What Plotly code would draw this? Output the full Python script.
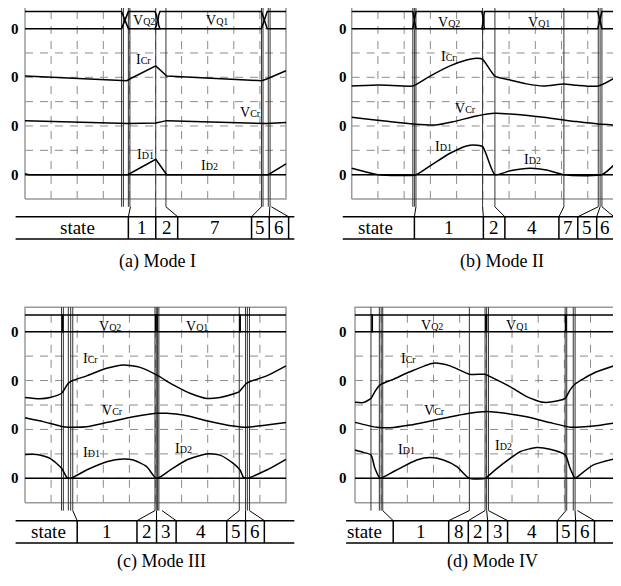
import plotly.graph_objects as go

PAGE_W, PAGE_H = 621, 586
PAGE_MARGIN = 8          # default body margin of the written html page
W, H = PAGE_W - PAGE_MARGIN, PAGE_H - PAGE_MARGIN
FONT = "Liberation Serif, Times New Roman, serif"

# ---------------- data (time in grid divisions, value in grid divisions) ----------------
# Panel (a) Mode I
a_vq2_t = [0, 3.70, 3.96, 4.98, 5.04, 5.07, 5.04, 4.98, 9.06, 9.28, 10]
a_vq2_v = [7.0, 7.0, 7.7, 7.7, 7.55, 7.35, 7.15, 7.0, 7.0, 7.7, 7.7]
a_vq1_t = [0, 3.70, 3.96, 5.17, 5.12, 5.10, 5.12, 5.17, 9.06, 9.28, 10]
a_vq1_v = [7.7, 7.7, 7.0, 7.0, 7.15, 7.35, 7.55, 7.7, 7.7, 7.0, 7.0]
a_icr_t = [0, 3.90, 4.05, 5.01, 5.43, 9.07, 9.26, 10]
a_icr_v = [5.05, 4.86, 4.95, 5.47, 5.05, 4.86, 4.93, 5.27]
a_vcr_t = [0, 3.96, 5.01, 5.43, 9.26, 10]
a_vcr_v = [3.22, 3.10, 3.12, 3.22, 3.10, 3.14]
a_id_t = [0, 0.15, 3.94, 5.01, 5.43, 9.32, 10]
a_id_v = [1.04, 1.0, 1.0, 1.63, 1.0, 1.0, 1.44]
a_edges = [3.70, 3.77, 3.96, 4.02, 5.01, 5.40, 9.06, 9.12, 9.32, 9.39]
a_cells = [3.96, 5.01, 5.85, 8.68, 9.36, 10.1]
a_links = [4.04, 5.01, 5.40, 9.06, 9.38, 9.44]
a_states = ["1", "2", "7", "5", "6"]

# Panel (b) Mode II
b_vq2_t = [0, 2.33, 2.45, 4.96, 4.99, 5.01, 4.99, 4.96, 9.38, 9.54, 10]
b_vq2_v = [7.0, 7.0, 7.7, 7.7, 7.55, 7.35, 7.15, 7.0, 7.0, 7.7, 7.7]
b_vq1_t = [0, 2.33, 2.45, 5.06, 5.04, 5.03, 5.04, 5.06, 9.38, 9.54, 10]
b_vq1_v = [7.7, 7.7, 7.0, 7.0, 7.15, 7.35, 7.55, 7.7, 7.7, 7.0, 7.0]
b_icr_t = [0, 1.02, 2.33, 2.45, 2.99, 3.75, 4.38, 4.76, 4.99, 5.46, 6.04, 6.67, 7.31, 8.09, 8.58, 9.40, 10]
b_icr_v = [4.64, 4.68, 4.64, 4.70, 5.05, 5.47, 5.71, 5.78, 5.74, 5.05, 4.89, 4.73, 4.64, 4.73, 4.67, 4.64, 4.96]
b_vcr_t = [0, 2.35, 3.18, 3.88, 4.76, 5.46, 6.04, 7.31, 8.58, 9.40, 10]
b_vcr_v = [3.36, 3.08, 3.04, 3.18, 3.41, 3.52, 3.49, 3.36, 3.18, 3.08, 3.04]
b_id_t = [0, 0.51, 1.02, 2.45, 2.99, 3.75, 4.38, 4.64, 4.99, 5.46, 6.04, 6.80, 7.43, 8.09, 9.54, 10]
b_id_v = [1.26, 1.12, 1.0, 1.0, 1.36, 1.88, 2.18, 2.22, 2.15, 1.0, 1.16, 1.26, 1.19, 1.0, 1.0, 1.40]
b_edges = [2.33, 2.39, 2.45, 4.99, 5.46, 8.09, 9.40, 9.47, 9.54]
b_cells = [2.39, 5.02, 5.84, 7.90, 8.62, 9.34, 10.0]
b_links = [2.45, 4.99, 5.46, 8.09, 9.40, 9.47, 9.54]
b_states = ["1", "2", "4", "7", "5", "6"]

# Panel (c) Mode III
c_vq2_t = [0, 1.44, 1.44, 5.01, 5.01, 8.24, 8.24, 10]
c_vq2_v = [7.68, 7.68, 7.0, 7.0, 7.68, 7.68, 7.0, 7.0]
c_vq1_t = [0, 1.44, 1.44, 5.06, 5.06, 8.24, 8.24, 10]
c_vq1_v = [7.0, 7.0, 7.68, 7.68, 7.0, 7.0, 7.68, 7.68]
c_icr_t = [0, 0.57, 0.96, 1.40, 1.53, 1.66, 1.83, 2.36, 3.13, 3.77, 4.41, 5.04, 5.68, 6.32, 6.96, 7.47, 7.98, 8.21, 8.37, 8.49, 8.62, 9.26, 10]
c_icr_v = [4.31, 4.26, 4.31, 4.48, 4.68, 4.89, 5.0, 5.19, 5.50, 5.64, 5.54, 5.23, 4.82, 4.48, 4.27, 4.31, 4.45, 4.55, 4.75, 4.89, 4.96, 5.19, 5.60]
c_vcr_t = [0, 0.70, 1.47, 1.83, 2.36, 3.13, 4.15, 5.04, 5.43, 6.07, 6.96, 7.98, 8.49, 9.26, 10]
c_vcr_v = [3.48, 3.32, 3.11, 3.09, 3.11, 3.28, 3.52, 3.66, 3.66, 3.59, 3.36, 3.14, 3.09, 3.18, 3.28]
c_id_t = [0, 0.45, 0.96, 1.40, 1.60, 1.66, 1.83, 2.36, 3.13, 3.77, 4.15, 4.66, 5.04, 5.56, 6.19, 6.96, 7.47, 7.98, 8.24, 8.37, 8.49, 9.26, 10]
c_id_v = [1.98, 1.98, 1.82, 1.41, 1.04, 1.0, 1.04, 1.34, 1.68, 1.79, 1.75, 1.48, 1.0, 1.34, 1.75, 2.0, 1.95, 1.61, 1.34, 1.04, 1.0, 1.34, 1.78]
c_edges = [1.40, 1.47, 1.66, 1.75, 1.83, 4.98, 5.03, 5.08, 5.13, 8.21, 8.45, 8.52, 8.60]
c_cells = [2.0, 4.29, 5.04, 5.79, 7.73, 8.45, 9.17]
c_links = [1.83, 4.98, 5.04, 5.25, 8.21, 8.45, 8.60]
c_states = ["1", "2", "3", "4", "5", "6"]

# Panel (d) Mode IV
d_vq2_t = [0, 0.66, 0.66, 5.00, 5.00, 8.06, 8.06, 10]
d_vq2_v = [7.68, 7.68, 7.0, 7.0, 7.68, 7.68, 7.0, 7.0]
d_vq1_t = [0, 0.66, 0.66, 5.03, 5.03, 8.06, 8.06, 10]
d_vq1_v = [7.0, 7.0, 7.68, 7.68, 7.0, 7.0, 7.68, 7.68]
d_icr_t = [0, 0.32, 0.61, 0.76, 0.89, 1.02, 1.46, 2.10, 2.99, 3.63, 4.37, 4.97, 5.03, 5.92, 6.56, 7.20, 7.71, 8.03, 8.22, 8.41, 9.11, 10]
d_icr_v = [4.11, 4.10, 4.27, 4.55, 4.75, 4.86, 5.05, 5.36, 5.71, 5.60, 5.26, 5.26, 5.23, 4.75, 4.34, 4.11, 4.16, 4.27, 4.62, 4.86, 5.30, 5.64]
d_vcr_t = [0, 0.83, 1.34, 2.10, 3.38, 4.37, 5.03, 5.41, 6.56, 7.45, 8.22, 8.47, 9.11, 10]
d_vcr_v = [3.29, 3.09, 3.07, 3.18, 3.46, 3.66, 3.73, 3.70, 3.52, 3.28, 3.09, 3.09, 3.14, 3.28]
d_id_t = [0, 0.32, 0.61, 0.76, 0.96, 1.06, 1.59, 2.36, 2.87, 3.38, 3.89, 4.37, 4.99, 5.03, 5.67, 6.31, 6.94, 7.45, 8.03, 8.22, 8.41, 8.47, 9.11, 10]
d_id_v = [2.16, 2.06, 1.96, 1.41, 1.0, 1.04, 1.34, 1.75, 1.85, 1.75, 1.48, 1.0, 1.0, 1.04, 1.61, 2.09, 2.26, 2.19, 1.96, 1.41, 1.0, 1.04, 1.55, 1.82]
d_edges = [0.61, 0.93, 1.00, 1.06, 4.37, 4.97, 5.03, 5.10, 8.03, 8.09, 8.34, 8.41]
d_cells = [1.46, 3.58, 4.33, 5.07, 5.83, 7.73, 8.43, 9.15]
d_links = [1.06, 4.37, 4.97, 5.03, 5.10, 8.06, 8.41, 8.50]
d_states = ["1", "8", "2", "3", "4", "5", "6"]

zero_levels = [7, 5, 3, 1]
captions = ["(a) Mode I", "(b) Mode II", "(c) Mode III", "(d) Mode IV"]


def lab(main, sub, big, small):
    return (f"<span style='font-size:{big}px;color:black'>{main}</span>"
            f"<span style='font-size:{small}px;color:black'>{sub}</span>")


# ---------------- layout of each panel (page pixel geometry) ----------------
panels = [
    dict(box=(25, 286, 4.3, 199), region=(8, 310, 8, 290), table=(-0.36, 10.32), zero_x=-0.38,
         state_x=2.0, cap=(5.06, -2.58),
         vq2=(a_vq2_t, a_vq2_v), vq1=(a_vq1_t, a_vq1_v), icr=(a_icr_t, a_icr_v),
         vcr=(a_vcr_t, a_vcr_v), idd=(a_id_t, a_id_v), edges=a_edges, cells=a_cells,
         links=a_links, states=a_states, shape="linear",
         labels=dict(VQ2=(4.55, 7.33), VQ1=(7.37, 7.33), ICr=(4.55, 5.74), VCr=(8.65, 3.55),
                     ID1=(4.61, 1.81), ID2=(7.05, 1.37))),
    dict(box=(351.7, 614, 4.3, 199), region=(310, 621, 8, 290), table=(-0.34, 10.25), zero_x=-0.32,
         state_x=0.89, cap=(5.72, -2.58),
         vq2=(b_vq2_t, b_vq2_v), vq1=(b_vq1_t, b_vq1_v), icr=(b_icr_t, b_icr_v),
         vcr=(b_vcr_t, b_vcr_v), idd=(b_id_t, b_id_v), edges=b_edges, cells=b_cells,
         links=b_links, states=b_states, shape="spline",
         labels=dict(VQ2=(3.72, 7.25), VQ1=(7.15, 7.25), ICr=(3.68, 5.85), VCr=(4.32, 3.73),
                     ID1=(3.49, 2.15), ID2=(6.9, 1.63))),
    dict(box=(25, 286, 307.2, 502.8), region=(8, 310, 290, 586), table=(-0.36, 10.32), zero_x=-0.38,
         state_x=0.89, cap=(5.24, -2.41),
         vq2=(c_vq2_t, c_vq2_v), vq1=(c_vq1_t, c_vq1_v), icr=(c_icr_t, c_icr_v),
         vcr=(c_vcr_t, c_vcr_v), idd=(c_id_t, c_id_v), edges=c_edges, cells=c_cells,
         links=c_links, states=c_states, shape="spline",
         labels=dict(VQ2=(3.26, 7.2), VQ1=(6.6, 7.2), ICr=(2.52, 5.91), VCr=(3.36, 3.77),
                     ID1=(2.55, 2.05), ID2=(6.09, 2.23))),
    dict(box=(355, 616.7, 307.2, 502.8), region=(310, 621, 290, 586), table=(-0.34, 10.15), zero_x=-0.45,
         state_x=0.38, cap=(5.25, -2.41),
         vq2=(d_vq2_t, d_vq2_v), vq1=(d_vq1_t, d_vq1_v), icr=(d_icr_t, d_icr_v),
         vcr=(d_vcr_t, d_vcr_v), idd=(d_id_t, d_id_v), edges=d_edges, cells=d_cells,
         links=d_links, states=d_states, shape="spline",
         labels=dict(VQ2=(2.93, 7.27), VQ1=(6.18, 7.27), ICr=(2.06, 5.91), VCr=(3.02, 3.77),
                     ID1=(1.95, 2.16), ID2=(5.69, 2.36))),
]

TAB_TOP, TAB_BOT, LINE_END = -0.73, -1.64, -0.32
GRID = "#8c8c8c"

fig = go.Figure()
annotations = []

for i, P in enumerate(panels, start=1):
    L, R, T, B = P["box"]
    x0, x1, y0, y1 = P["region"]
    sx, sy = (R - L) / 10.0, (B - T) / 8.0
    xr = [(x0 - L) / sx, (x1 - L) / sx]
    yr = [(B - y1) / sy, (B - y0) / sy]
    fx0, fx1 = x0 - PAGE_MARGIN, x1 - PAGE_MARGIN
    fy0, fy1 = y0 - PAGE_MARGIN, y1 - PAGE_MARGIN
    xn, yn = ("x" if i == 1 else f"x{i}"), ("y" if i == 1 else f"y{i}")
    xk, yk = ("xaxis" if i == 1 else f"xaxis{i}"), ("yaxis" if i == 1 else f"yaxis{i}")
    fig.layout[xk] = dict(domain=[fx0 / W, min(fx1 / W, 1)], range=xr, visible=False,
                          fixedrange=True, anchor=yn)
    fig.layout[yk] = dict(domain=[max(1 - fy1 / H, 0), 1 - fy0 / H], range=yr, visible=False,
                          fixedrange=True, anchor=xn)
    # correct ranges for clipped domains
    if fx1 > W:
        fig.layout[xk].range = [xr[0], (x0 + (W - fx0) - L) / sx]
    if fy1 > H:
        fig.layout[yk].range = [(B - (y0 + (H - fy0))) / sy, yr[1]]

    def line(xs, ys, color="black", width=1.5, dash="solid", shape="linear", name=""):
        fig.add_trace(go.Scatter(x=xs, y=ys, mode="lines", xaxis=xn, yaxis=yn, name=name,
                                 line=dict(color=color, width=width, dash=dash, shape=shape,
                                           smoothing=0.6),
                                 hoverinfo="skip", showlegend=False))

    # dashed grid
    gx, gy = [], []
    for k in range(1, 10):
        gx += [k, k, None]; gy += [0, 8, None]
    for k in range(1, 8):
        gx += [0, 10, None]; gy += [k, k, None]
    line(gx, gy, color=GRID, width=1, dash="8px,7px")
    # frame
    line([0, 10, 10, 0, 0], [0, 0, 8, 8, 0], color="#9a9a9a", width=1.5)
    # transition instants
    ex, ey = [], []
    for e in P["edges"]:
        ex += [e, e, None]; ey += [8, LINE_END, None]
    line(ex, ey, color="#333333", width=1)
    # ID zero line
    line([0, 10], [1, 1], width=1.5)
    # waveforms
    line(*P["vq2"], name="VQ2")
    line(*P["vq1"], name="VQ1")
    sh = P["shape"]
    line(*P["icr"], shape=sh, name="ICr")
    line(*P["vcr"], shape=sh, name="VCr")
    line(*P["idd"], shape=sh, name="ID")
    # state table
    t0, t1 = P["table"]
    tx, ty = [t0, t1, None, t0, t1, None], [TAB_TOP, TAB_TOP, None, TAB_BOT, TAB_BOT, None]
    for c in P["cells"]:
        tx += [c, c, None]; ty += [TAB_TOP, TAB_BOT, None]
    line(tx, ty, width=1.5)
    cx, cy = [], []
    for top, bot in zip(P["links"], P["cells"]):
        cx += [top, bot, None]; cy += [LINE_END, TAB_TOP, None]
    line(cx, cy, width=1)

    ymid = (TAB_TOP + TAB_BOT) / 2
    cells = P["cells"]
    for k, s in enumerate(P["states"]):
        annotations.append(dict(x=(cells[k] + cells[k + 1]) / 2, y=ymid, xref=xn, yref=yn, text=s,
                                showarrow=False, font=dict(family=FONT, size=19, color="black")))
    annotations.append(dict(x=P["state_x"], y=ymid, xref=xn, yref=yn, text="state", showarrow=False,
                            font=dict(family=FONT, size=19, color="black")))
    for z in zero_levels:
        annotations.append(dict(x=P["zero_x"], y=z, xref=xn, yref=yn, text="<b>0</b>", showarrow=False,
                                font=dict(family=FONT, size=15, color="black")))
    texts = dict(VQ2=lab("V", "Q2", 14, 10), VQ1=lab("V", "Q1", 14, 10), ICr=lab("I", "Cr", 14, 10),
                 VCr=lab("V", "Cr", 14, 10), ID1=lab("I", "D1", 14, 10), ID2=lab("I", "D2", 14, 10))
    for key, (lx, ly) in P["labels"].items():
        annotations.append(dict(x=lx, y=ly, xref=xn, yref=yn, text=texts[key], showarrow=False,
                                font=dict(family=FONT, size=14, color="black")))
    annotations.append(dict(x=P["cap"][0], y=P["cap"][1], xref=xn, yref=yn, text=captions[i - 1],
                            showarrow=False, font=dict(family=FONT, size=18, color="black")))

fig.update_layout(width=W, height=H, margin=dict(l=0, r=0, t=0, b=0), paper_bgcolor="white",
                  plot_bgcolor="white", showlegend=False, annotations=annotations)
fig.write_html("out.html")
